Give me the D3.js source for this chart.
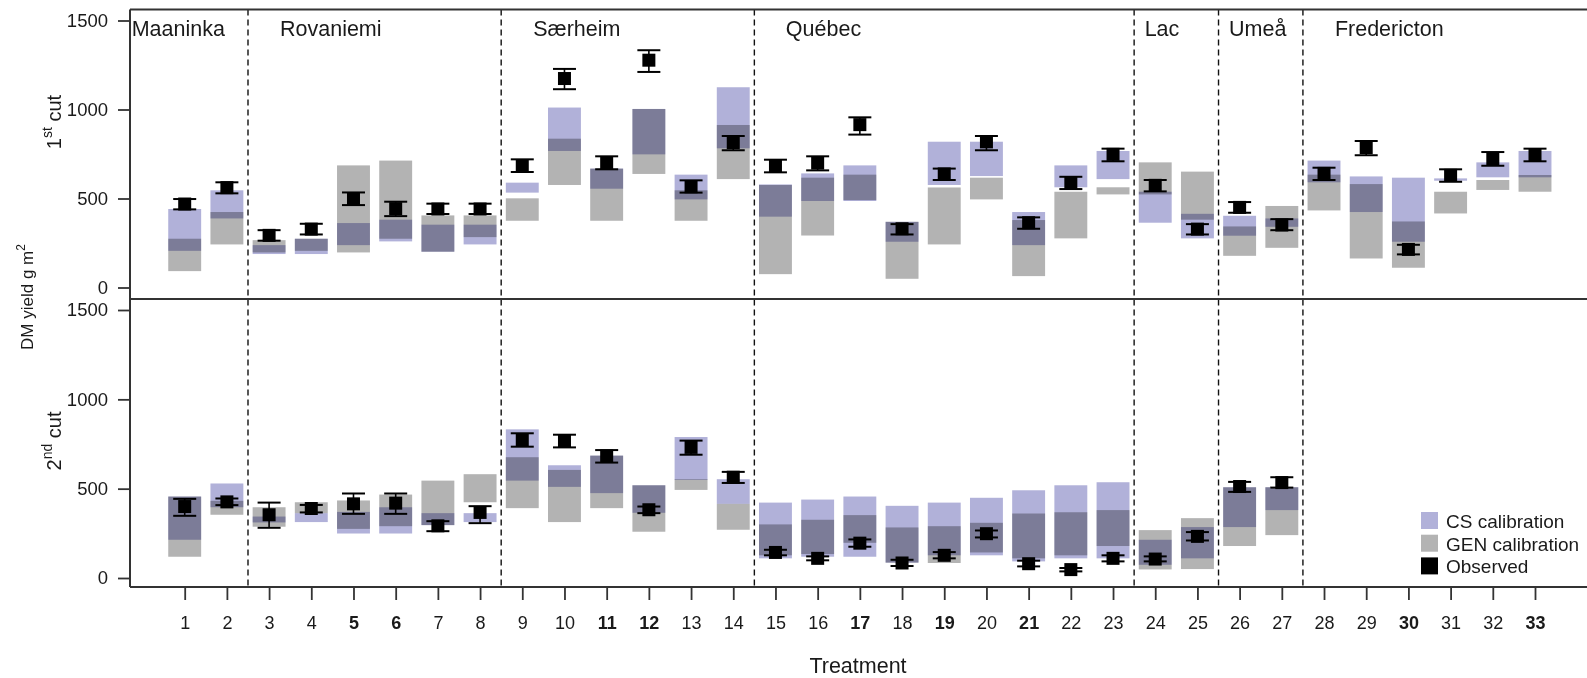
<!DOCTYPE html>
<html><head><meta charset="utf-8">
<script src="https://cdn.jsdelivr.net/npm/d3@7"></script>
<style>
html,body{margin:0;padding:0;background:#fff;}
svg{display:block;font-family:"Liberation Sans",Arial,sans-serif;}
</style></head>
<body>
<svg id="chart" width="1587" height="678"></svg>
<script>
// ---------- DATA ----------
const treatments = [1,2,3,4,5,6,7,8,9,10,11,12,13,14,15,16,17,18,19,20,21,22,23,24,25,26,27,28,29,30,31,32,33];
const boldTreatments = [5,6,11,12,17,19,21,30,33];
const yTicks = [0,500,1000,1500];
const sites = ["Maaninka","Rovaniemi","Særheim","Québec","Lac","Umeå","Fredericton"];
const siteBoundaries = [2.5,8.5,14.5,23.5,25.5,27.5];
const siteStart = [0.5,2.5,8.5,14.5,23.5,25.5,27.5];

// 1st cut
const cut1CsLo  = [206,388,188,188,238,259,201,242,533,767,555,748,495,782,398,486,486,257,576,626,238,563,609,364,276,291,341,591,424,257,600,619,619];
const cut1CsHi  = [441,546,238,274,362,381,353,353,589,1011,668,1003,634,1125,579,641,686,369,819,819,424,686,767,538,414,403,388,713,624,617,613,703,767];
const cut1GenLo = [92,242,197,206,197,274,201,283,375,576,375,638,375,609,75,292,491,49,242,495,64,276,523,523,381,178,223,433,163,111,416,548,538];
const cut1GenHi = [274,424,266,274,686,713,405,405,501,836,668,1003,546,913,576,617,634,369,562,617,379,538,563,703,651,343,458,634,581,371,538,604,632];
const cut1Obs   = [469,561,293,328,499,443,441,441,684,1174,701,1277,566,814,684,699,915,330,638,818,364,589,748,574,328,450,351,641,786,214,630,722,744];
const cut1ObsLo = [439,529,263,298,463,401,413,413,649,1114,664,1211,533,771,647,658,859,298,604,771,330,553,709,540,298,420,322,604,743,186,594,684,709];
const cut1ObsHi = [497,591,322,358,534,482,471,471,720,1228,737,1333,602,851,718,737,956,356,668,851,394,622,780,604,356,480,384,673,823,240,664,761,780];

// 2nd cut (treatments 1-27)
const cut2CsLo  = [214,396,311,313,249,249,296,313,545,510,475,365,549,415,110,119,119,86,127,127,93,110,110,74,110,285,380];
const cut2CsHi  = [456,529,344,363,370,396,363,363,832,631,685,519,789,553,422,439,456,404,422,449,491,519,536,214,285,508,508];
const cut2GenLo = [119,354,287,363,275,290,296,424,391,313,391,259,493,270,127,134,197,86,84,143,110,127,179,48,50,179,240];
const cut2GenHi = [456,432,396,424,434,467,545,581,676,605,685,519,553,415,300,326,352,283,290,309,361,368,380,268,335,508,508];
const cut2Obs   = [400,426,354,389,415,419,292,367,772,769,683,382,731,564,143,110,195,84,127,248,80,47,110,106,233,512,534];
const cut2ObsLo = [348,408,281,367,359,359,262,307,735,731,646,363,690,532,127,99,175,67,110,227,65,37,93,93,210,482,506];
const cut2ObsHi = [443,445,422,409,473,473,318,402,810,802,716,400,769,594,158,121,216,102,145,266,97,56,127,121,257,538,564];

const legendItems = ["CS calibration","GEN calibration","Observed"];

// ---------- LAYOUT ----------
const W = 1587, H = 678;
const left = 130, rightEdge = 1600;
const top1 = 9.5, mid = 299, bot2 = 587;
const colCS = "#b1b1d9", colGEN = "#b3b3b3", colObs = "#000";
const axisCol = "#333", textCol = "#1a1a1a";

const svg = d3.select("#chart");

const x = d3.scaleLinear().domain([1,33]).range([184.7,1535]);
const y1 = d3.scaleLinear().domain([0,1500]).range([287.5,20.5]);
const y2 = d3.scaleLinear().domain([0,1500]).range([578,310]);
const barHalf = (x(2)-x(1))*0.39;
const capHalf = 11.5;
const sq = 13;

function panel(yS, n, csLo, csHi, genLo, genHi, obs, obsLo, obsHi){
  const g = svg.append("g").style("isolation","isolate");
  const idx = treatments.slice(0,n).map((t,i)=>i);
  g.selectAll("rect.cs").data(idx).join("rect")
    .attr("x", i=>x(treatments[i])-barHalf).attr("width", barHalf*2)
    .attr("y", i=>yS(csHi[i])).attr("height", i=>yS(csLo[i])-yS(csHi[i]))
    .attr("fill", colCS).style("mix-blend-mode","multiply");
  g.selectAll("rect.gen").data(idx).join("rect")
    .attr("x", i=>x(treatments[i])-barHalf).attr("width", barHalf*2)
    .attr("y", i=>yS(genHi[i])).attr("height", i=>yS(genLo[i])-yS(genHi[i]))
    .attr("fill", colGEN).style("mix-blend-mode","multiply");
  const o = svg.append("g");
  idx.forEach(i=>{
    const cx = x(treatments[i]);
    o.append("line").attr("x1",cx).attr("x2",cx).attr("y1",yS(obsLo[i])).attr("y2",yS(obsHi[i]))
      .attr("stroke",colObs).attr("stroke-width",1.6);
    [obsLo[i],obsHi[i]].forEach(v=>{
      o.append("line").attr("x1",cx-capHalf).attr("x2",cx+capHalf).attr("y1",yS(v)).attr("y2",yS(v))
        .attr("stroke",colObs).attr("stroke-width",2);
    });
    o.append("rect").attr("x",cx-sq/2).attr("y",yS(obs[i])-sq/2).attr("width",sq).attr("height",sq).attr("fill",colObs);
  });
}

panel(y1, 33, cut1CsLo, cut1CsHi, cut1GenLo, cut1GenHi, cut1Obs, cut1ObsLo, cut1ObsHi);
panel(y2, 27, cut2CsLo, cut2CsHi, cut2GenLo, cut2GenHi, cut2Obs, cut2ObsLo, cut2ObsHi);

// dashed site boundaries
svg.append("g").selectAll("line").data(siteBoundaries).join("line")
  .attr("x1",d=>x(d)).attr("x2",d=>x(d)).attr("y1",top1).attr("y2",bot2)
  .attr("stroke","#111").attr("stroke-width",1.4).attr("stroke-dasharray","6,4");

// frame
const fr = svg.append("g").attr("stroke",axisCol).attr("stroke-width",2).attr("fill","none");
fr.append("line").attr("x1",left).attr("x2",rightEdge).attr("y1",top1).attr("y2",top1);
fr.append("line").attr("x1",left).attr("x2",rightEdge).attr("y1",mid).attr("y2",mid);
fr.append("line").attr("x1",left).attr("x2",rightEdge).attr("y1",bot2).attr("y2",bot2);
fr.append("line").attr("x1",left).attr("x2",left).attr("y1",top1).attr("y2",bot2);

// y axes
function yAxis(yS){
  const g = svg.append("g").attr("transform",`translate(${left},0)`)
    .call(d3.axisLeft(yS).tickValues(yTicks).tickSize(12).tickPadding(10).tickFormat(d3.format("d")));
  g.select(".domain").remove();
  g.selectAll(".tick line").attr("stroke",axisCol).attr("stroke-width",1.8);
  g.selectAll(".tick text").attr("fill",textCol).style("font-size","18.5px").style("font-family","'Liberation Sans',Arial,sans-serif");
}
yAxis(y1); yAxis(y2);

// x axis
const xa = svg.append("g").attr("transform",`translate(0,${bot2})`)
  .call(d3.axisBottom(x).tickValues(treatments).tickSize(13).tickPadding(16).tickFormat(d3.format("d")));
xa.select(".domain").remove();
xa.selectAll(".tick line").attr("stroke",axisCol).attr("stroke-width",1.8);
xa.selectAll(".tick text").attr("fill",textCol).style("font-size","18px")
  .style("font-family","'Liberation Sans',Arial,sans-serif")
  .style("font-weight",d=>boldTreatments.includes(d)?"bold":"normal");

// site labels
const labelPad = [1.7,32,32,31.5,10.5,10.5,32];
svg.append("g").selectAll("text").data(sites).join("text")
  .attr("x",(d,i)=> i===0 ? left+1.7 : x(siteStart[i])+labelPad[i])
  .attr("y",36).attr("fill",textCol).style("font-size","21.5px").text(d=>d);

// axis titles
svg.append("text").attr("x",858).attr("y",673).attr("text-anchor","middle")
  .attr("fill",textCol).style("font-size","21.5px").text("Treatment");

function rotLabel(cx, cy, num, sup, rest, size){
  const t = svg.append("text").attr("transform",`translate(${cx},${cy}) rotate(-90)`)
    .attr("text-anchor","middle").attr("fill",textCol).style("font-size",size+"px");
  t.append("tspan").text(num);
  t.append("tspan").attr("dy",-size*0.45).style("font-size",(size*0.7)+"px").text(sup);
  t.append("tspan").attr("dy",size*0.45).text(rest);
}
rotLabel(61,122,"1","st"," cut",20);
rotLabel(61,441,"2","nd"," cut",20);
(function(){
  const s=17;
  const t = svg.append("text").attr("transform",`translate(33,297) rotate(-90)`)
    .attr("text-anchor","middle").attr("fill",textCol).style("font-size",s+"px");
  t.append("tspan").text("DM yield g m");
  t.append("tspan").attr("dy",-s*0.45).style("font-size",(s*0.7)+"px").text("2");
})();

// legend
const legCols = [colCS,colGEN,colObs];
const lg = svg.append("g");
legendItems.forEach((d,i)=>{
  lg.append("rect").attr("x",1421).attr("y",512+i*22.7).attr("width",17).attr("height",17).attr("fill",legCols[i]);
  lg.append("text").attr("x",1446).attr("y",528+i*22.7).attr("fill",textCol).style("font-size","19px").text(d);
});
</script>
</body></html>
